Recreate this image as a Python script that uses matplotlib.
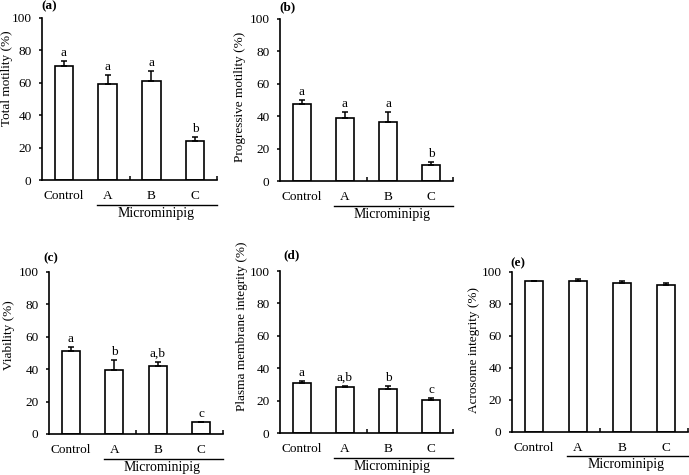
import matplotlib
matplotlib.use("Agg")
import matplotlib.pyplot as plt
import numpy as np

plt.rcParams['font.family'] = ['Liberation Serif', 'DejaVu Serif']

categories = ["Control", "A", "B", "C"]
group_label = "Microminipig"

total_motility = [70.4, 59.5, 60.9, 24.1]
total_motility_err = [3.3, 5.1, 6.4, 2.6]
total_motility_letters = ["a", "a", "a", "b"]

progressive_motility = [47.7, 38.7, 36.4, 9.7]
progressive_motility_err = [2.5, 3.9, 6.4, 2.2]
progressive_motility_letters = ["a", "a", "a", "b"]

viability = [51.3, 39.4, 42.1, 7.2]
viability_err = [2.1, 6.4, 2.6, 0.3]
viability_letters = ["a", "b", "a,b", "c"]

membrane = [31.0, 28.6, 27.2, 20.6]
membrane_err = [0.8, 0.6, 1.8, 0.8]
membrane_letters = ["a", "a,b", "b", "c"]

acrosome = [94.2, 94.2, 93.2, 91.9]
acrosome_err = [0.2, 1.4, 1.2, 1.0]
acrosome_letters = ["", "", "", ""]

panels = [
    ("(a)", "Total motility (%)", total_motility, total_motility_err, total_motility_letters),
    ("(b)", "Progressive motility (%)", progressive_motility, progressive_motility_err, progressive_motility_letters),
    ("(c)", "Viability (%)", viability, viability_err, viability_letters),
    ("(d)", "Plasma membrane integrity (%)", membrane, membrane_err, membrane_letters),
    ("(e)", "Acrosome integrity (%)", acrosome, acrosome_err, acrosome_letters),
]

W, H = 689, 475
fig = plt.figure(figsize=(W / 100, H / 100), dpi=100)

# axes rectangles in pixels: left, top, right, bottom
rects = [(42, 18, 217, 180), (280, 19, 453, 181), (49, 272, 223, 434),
         (280, 271, 453, 433), (512, 272, 688, 432)]
ylabel_pos = [(-0.20, 0.63), (-0.231, 0.52), (-0.23, 0.61), (-0.22, 0.66), (-0.216, 0.51)]
plabel_pos = [(-0.006, 1.074), (-0.006, 1.074), (-0.034, 1.086), (0.017, 1.099), (-0.011, 1.056)]

for (plab, ylab, vals, errs, letters), (l, t, r, b), ylp, plp in zip(panels, rects, ylabel_pos, plabel_pos):
    ax = fig.add_axes([l / W, 1 - b / H, (r - l) / W, (b - t) / H])
    x = np.arange(len(categories))
    ax.bar(x, vals, width=0.42, color="white", edgecolor="black", linewidth=1.2, zorder=2)
    ax.errorbar(x, vals, yerr=[np.zeros(len(errs)), errs], fmt="none", ecolor="black",
                elinewidth=1.1, capsize=2.5, capthick=1.1, zorder=3)
    for xi, v, e, lt in zip(x, vals, errs, letters):
        if lt:
            ax.annotate(lt, (xi, v + e), xytext=(0, 1.5), textcoords="offset points",
                        ha="center", va="bottom", fontsize=9.5)
    ax.set_xlim(-0.5, 3.5)
    ax.set_ylim(0, 100)
    ax.set_yticks([0, 20, 40, 60, 80, 100])
    ax.set_xticks(x)
    ax.set_xticklabels(categories, fontsize=9.5)
    ax.tick_params(axis="x", length=0, pad=7)
    ax.set_xticks([1.5, 3.5], minor=True)
    ax.tick_params(axis="x", which="minor", direction="in", length=3, width=1.1)
    ax.tick_params(axis="y", direction="out", length=2.5, width=1.1, pad=5, labelsize=9.5)
    for s in ["top", "right"]:
        ax.spines[s].set_visible(False)
    for s in ["left", "bottom"]:
        ax.spines[s].set_linewidth(1.2)
    ax.text(ylp[0], ylp[1], ylab, rotation=90, ha="center", va="center",
            fontsize=9.5, transform=ax.transAxes)
    ax.text(plp[0], plp[1], plab, ha="left", va="center", fontsize=9.5,
            fontweight="bold", transform=ax.transAxes)
    trans = ax.get_xaxis_transform()
    ax.plot([0.76, 3.5], [-0.152, -0.152], color="black", linewidth=1.0,
            transform=trans, clip_on=False)
    ax.text(2.1, -0.228, group_label, ha="center", va="baseline", fontsize=10,
            transform=trans)

fig.savefig("out.png", dpi=100)
